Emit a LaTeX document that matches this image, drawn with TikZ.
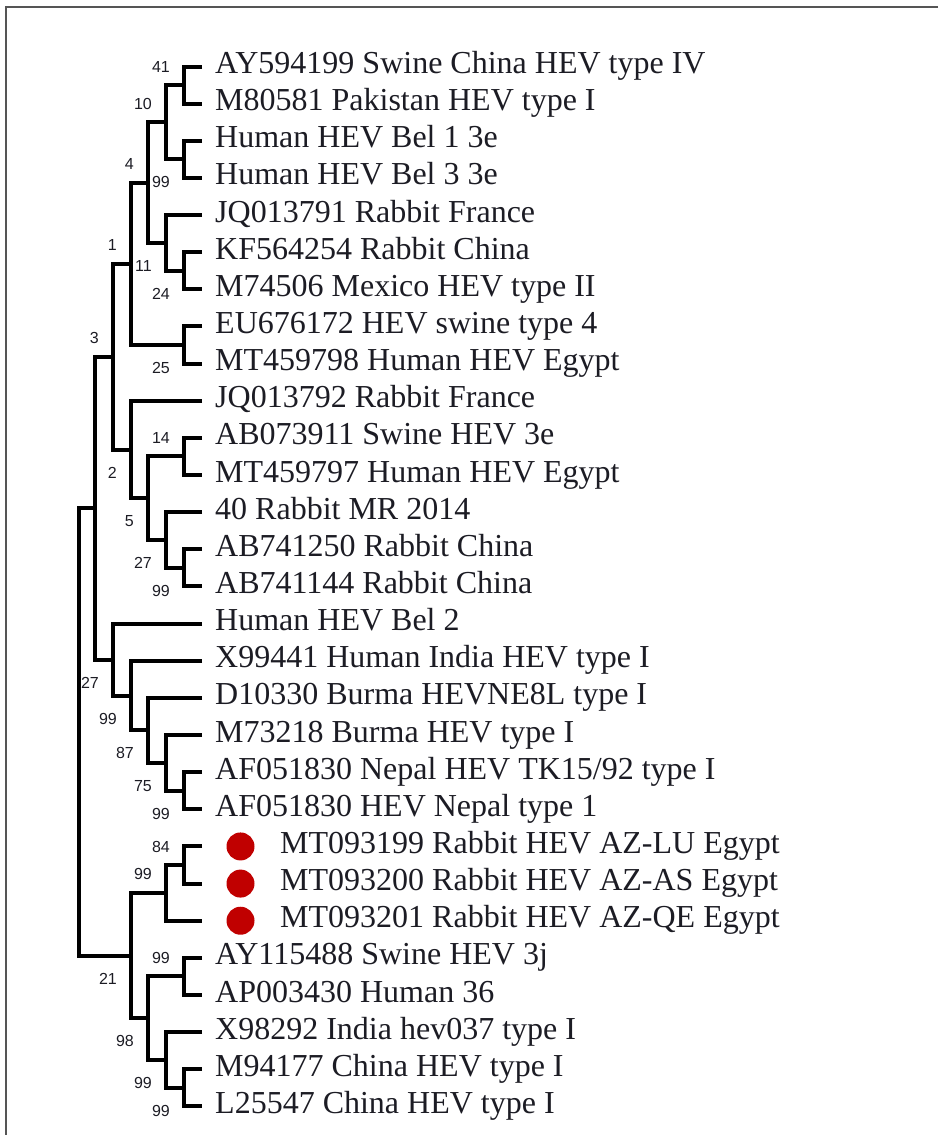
\documentclass[tikz,border=0pt]{standalone}
\usepackage{fontspec}
\setmainfont{Liberation Serif}
\newfontfamily\cifras{Liberation Sans}
\usetikzlibrary{calc}
\definecolor{tinta}{HTML}{1C1C24}
\definecolor{rojo}{HTML}{C00000}
\definecolor{marco}{HTML}{555555}
\newcommand{\hoja}[1]{66.5+37.14*(#1-1)}
\tikzset{
  rama/.style={line width=4pt,black},
  etiq/.style={anchor=base west,inner sep=0pt,text=tinta,font=\fontsize{32}{36}\selectfont},
  soporte/.style={anchor=east,inner sep=0pt,text=tinta,font=\cifras\fontsize{16}{18}\selectfont},
  punto/.style={circle,fill=rojo,inner sep=0pt,minimum size=28pt},
}

\begin{document}
\begin{tikzpicture}[x=1pt,y=-1pt]
  \useasboundingbox (0,0) rectangle (938,1135);
  % marco
  \draw[marco,line width=2pt] (938,7) -- (6,7) -- (6,1135);
  % hojas
  \foreach \i/\t in {1/{AY594199 Swine China HEV type IV},2/{M80581 Pakistan HEV type I},
    3/{Human HEV Bel 1 3e},4/{Human HEV Bel 3 3e},5/{JQ013791 Rabbit France},
    6/{KF564254 Rabbit China},7/{M74506 Mexico HEV type II},8/{EU676172 HEV swine type 4},
    9/{MT459798 Human HEV Egypt},10/{JQ013792 Rabbit France},11/{AB073911 Swine HEV 3e},
    12/{MT459797 Human HEV Egypt},13/{40 Rabbit MR 2014},14/{AB741250 Rabbit China},
    15/{AB741144 Rabbit China},16/{Human HEV Bel 2},17/{X99441 Human India HEV type I},
    18/{D10330 Burma HEVNE8L type I},19/{M73218 Burma HEV type I},
    20/{AF051830 Nepal HEV TK15/92 type I},21/{AF051830 HEV Nepal type 1},
    25/{AY115488 Swine HEV 3j},26/{AP003430 Human 36},27/{X98292 India hev037 type I},
    28/{M94177 China HEV type I},29/{L25547 China HEV type I}}
  {
    \coordinate (t\i) at (202,{\hoja{\i}});
    \node[etiq] (l\i) at (215,{\hoja{\i}+7}) {\t};
  }
  \foreach \i/\t in {22/{MT093199 Rabbit HEV AZ-LU Egypt},23/{MT093200 Rabbit HEV AZ-AS Egypt},
    24/{MT093201 Rabbit HEV AZ-QE Egypt}}
  {
    \coordinate (t\i) at (202,{\hoja{\i}});
    \node[punto] (p\i) at (240.5,{\hoja{\i}}) {};
    \node[etiq] (l\i) at (280,{\hoja{\i}+7}) {\t};
  }
  % nodos internos
  \foreach \n/\x/\y in {n12/184/85.07,n34/184/159.35,nA/166/122.21,n67/184/270.77,
    nC/166/242.92,nB/148/182.56,n89/184/345.05,nW/131/263.8,n1112/184/456.47,
    n1415/184/567.89,nZ/166/540.04,nY/148/498.25,nX/131/449.5,nU/113/356.65,
    n2021/184/790.73,nV4/166/762.88,nV3/148/730.38,nV2/131/695.56,nV/113/659.58,
    nT/95/508.12,n2223/184/865.01,nR1/166/892.87,n2526/184/976.43,n2829/184/1087.85,
    nS2/166/1060,nS/148/1018.2,nR/131/955.54,raiz/79/731.83}
    \coordinate (\n) at (\x,\y);
  % ramas
  \foreach \a/\p/\b in {t1/n12/t2,t3/n34/t4,n12/nA/n34,t6/n67/t7,t5/nC/n67,nA/nB/nC,
    t8/n89/t9,nB/nW/n89,t11/n1112/t12,t14/n1415/t15,t13/nZ/n1415,n1112/nY/nZ,
    t10/nX/nY,nW/nU/nX,t20/n2021/t21,t19/nV4/n2021,t18/nV3/nV4,t17/nV2/nV3,
    t16/nV/nV2,nU/nT/nV,t22/n2223/t23,n2223/nR1/t24,t25/n2526/t26,t28/n2829/t29,
    t27/nS2/n2829,n2526/nS/nS2,nR1/nR/nS,nT/raiz/nR}
    \draw[rama] (\a) -| (\p) |- (\b);
  % soporte
  \foreach \p/\v/\d in {n12/41/-18.5,n34/99/23,nA/10/-18.5,n67/24/23,nC/11/23,nB/4/-18.5,
    n89/25/23,nW/1/-18.5,n1112/14/-18.5,n1415/99/23,nZ/27/23,nY/5/23,nX/2/23,nU/3/-18.5,
    n2021/99/23,nV4/75/23,nV3/87/23,nV2/99/23,nV/27/23,n2223/84/-18.5,nR1/99/-18.5,
    n2526/99/-18.5,n2829/99/23,nS2/99/23,nS/98/23,nR/21/23}
    \node[soporte] (s\p) at ($(\p)+(-14,\d)$) {\v};
\end{tikzpicture}
\end{document}
